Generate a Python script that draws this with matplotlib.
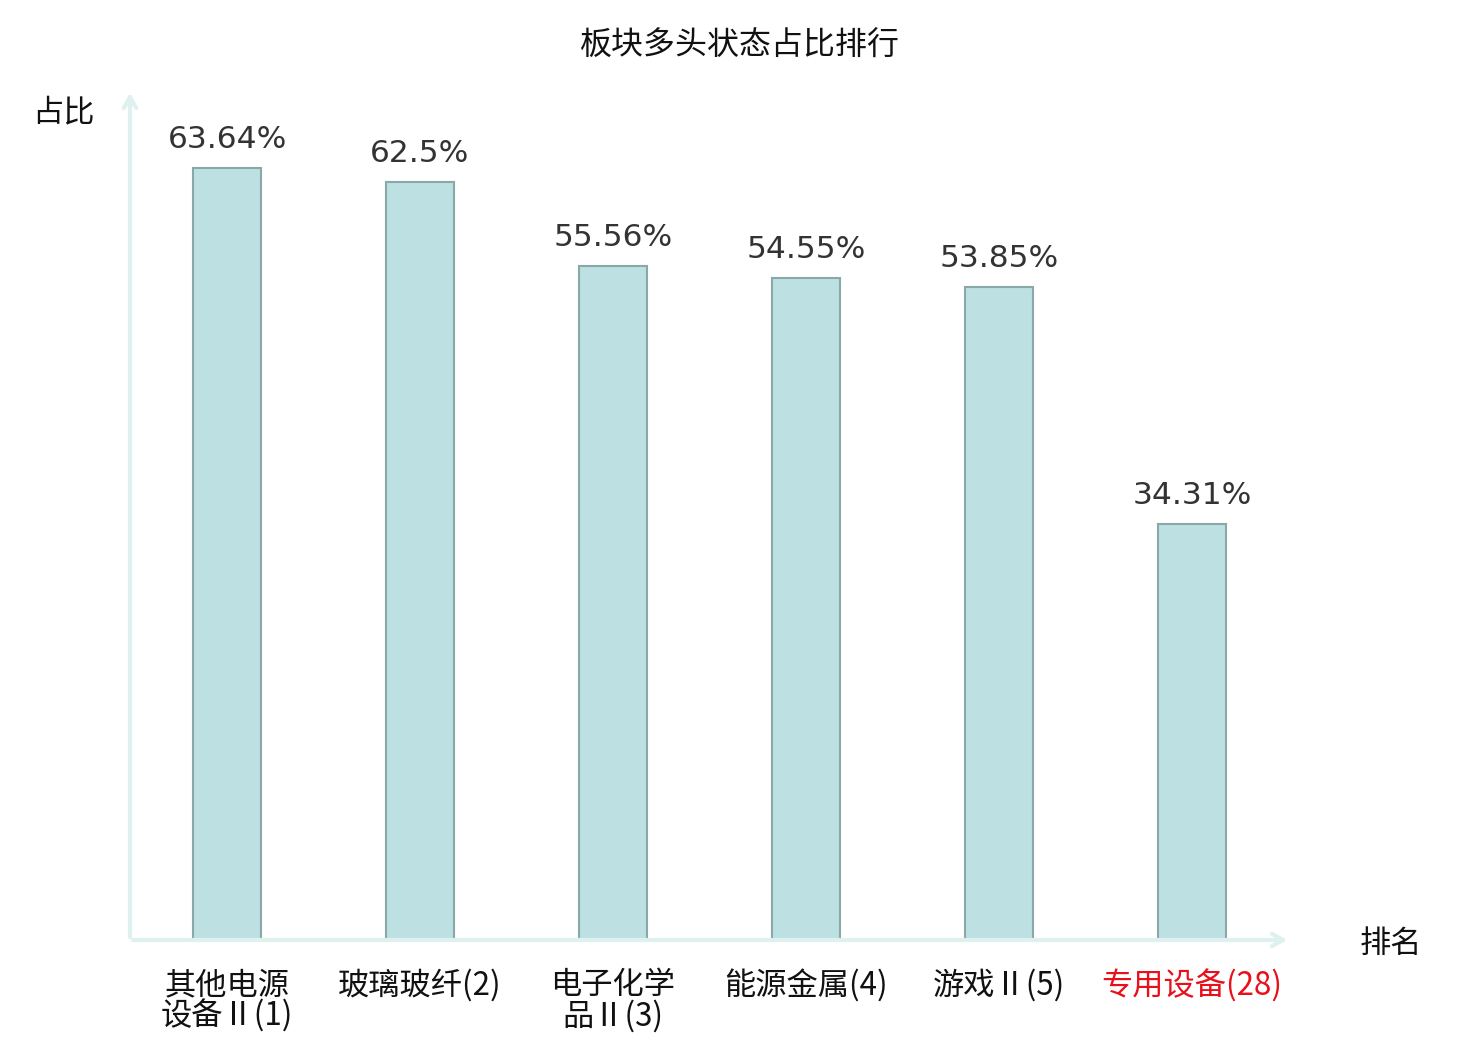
import matplotlib
matplotlib.use('Agg')
import matplotlib.pyplot as plt

plt.rcParams['font.family'] = ['Noto Sans CJK SC', 'DejaVu Sans']

# data
categories = ['其他电源\n设备Ⅱ(1)', '玻璃玻纤(2)', '电子化学\n品Ⅱ(3)', '能源金属(4)', '游戏Ⅱ(5)', '专用设备(28)']
values = [63.64, 62.5, 55.56, 54.55, 53.85, 34.31]
valueLabels = ['63.64%', '62.5%', '55.56%', '54.55%', '53.85%', '34.31%']
labelColors = ['#111111', '#111111', '#111111', '#111111', '#111111', '#e8101a']

barColor = '#bde0e3'
edgeColor = '#8aa8a8'
axisColor = '#dff1ef'

fig = plt.figure(figsize=(14.8, 10.4), dpi=100)
ax = fig.add_axes([130/1480, 100/1040, 1160/1480, 850/1040])

x = list(range(len(values)))
ax.bar(x, values, width=0.35, color=barColor, edgecolor=edgeColor, linewidth=1.5, zorder=2)

for xi, v, lbl in zip(x, values, valueLabels):
	ax.annotate(lbl, (xi, v), xytext=(0, 10), textcoords='offset points',
		ha='center', va='bottom', fontsize=22.5, color='#333333', family='DejaVu Sans')

xMin, xMax = -0.503, 5.508
yMax = 70.07
ax.set_xlim(xMin, xMax)
ax.set_ylim(0, yMax)
ax.axis('off')

# axis arrows
arrowProps = dict(arrowstyle='->,head_length=0.8,head_width=0.45', color=axisColor, lw=3)
ax.annotate('', xy=(xMax, 0), xytext=(xMin, 0), arrowprops=arrowProps, annotation_clip=False)
ax.annotate('', xy=(xMin, yMax), xytext=(xMin, 0), arrowprops=arrowProps, annotation_clip=False)

# category labels
for xi, cat, c in zip(x, categories, labelColors):
	ax.text(xi, -2.4, cat, ha='center', va='top', fontsize=22.5, color=c,
		linespacing=0.95, family=['Noto Sans CJK SC', 'DejaVu Sans'])

fig.text(740/1480, 1 - 46/1040, '板块多头状态占比排行', ha='center', va='center', fontsize=23, color='#111111')
fig.text(63/1480, 1 - 112/1040, '占比', ha='center', va='center', fontsize=22.5, color='#111111')
fig.text(1391/1480, 1 - 944/1040, '排名', ha='center', va='center', fontsize=22.5, color='#111111')

fig.savefig('out.png', dpi=100)
